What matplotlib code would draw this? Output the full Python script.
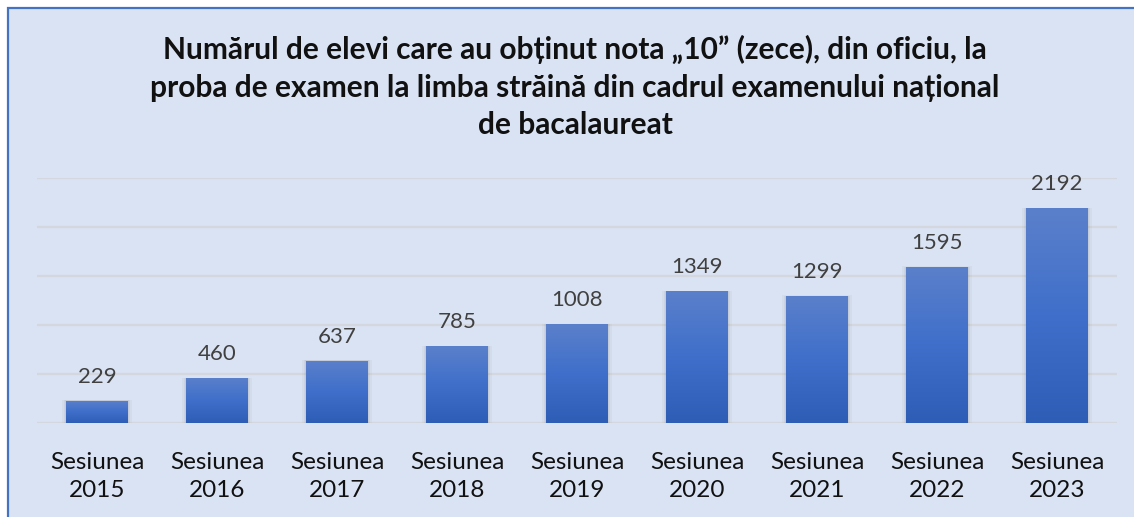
import matplotlib
matplotlib.use("Agg")
import matplotlib.pyplot as plt
import numpy as np
from matplotlib.patches import Rectangle
from matplotlib.colors import LinearSegmentedColormap

categories = ["Sesiunea\n2015", "Sesiunea\n2016", "Sesiunea\n2017", "Sesiunea\n2018",
              "Sesiunea\n2019", "Sesiunea\n2020", "Sesiunea\n2021", "Sesiunea\n2022",
              "Sesiunea\n2023"]
values = [229, 460, 637, 785, 1008, 1349, 1299, 1595, 2192]
title = ("Numărul de elevi care au obținut nota „10” (zece), din oficiu, la\n"
         "proba de examen la limba străină din cadrul examenului național\n"
         "de bacalaureat")

BG = "#dae3f3"
W, H = 1134, 517
fig = plt.figure(figsize=(W / 100, H / 100), dpi=100)
fig.patch.set_facecolor("white")
# panel with blue border
panel = Rectangle((7.5 / W, -0.05), 1.2, (H - 7.5) / H + 0.05, transform=fig.transFigure,
                  facecolor=BG, edgecolor="#4472c4", linewidth=1.6, zorder=-10)
fig.patches.append(panel)

ax = fig.add_axes([37 / W, (H - 423) / H, (1117 - 37) / W, (423 - 178) / H])
ax.set_zorder(1)
ax.patch.set_visible(False)
x = np.arange(len(values))
bars = ax.bar(x, values, width=0.51, color="#4472c4", zorder=3)
ax.set_xlim(-0.5, len(values) - 0.5)
ax.set_ylim(0, 2500)
ax.set_yticks(np.arange(0, 2501, 500))
ax.yaxis.grid(True, color="#d4d7dd", linewidth=1.6, zorder=0)
ax.set_axisbelow(True)
ax.tick_params(axis="y", left=False, labelleft=False)
ax.tick_params(axis="x", length=0, pad=21)
for s in ax.spines.values():
    s.set_visible(False)
ax.set_xticks(x)
ax.set_xticklabels(categories, fontsize=17.5, family="Lato", color="#111111", linespacing=1.42)

cmap = LinearSegmentedColormap.from_list("g", ["#2e5db6", "#3f6fca", "#5b80cb"])
grad = np.linspace(0, 1, 256).reshape(-1, 1)
for b in bars:
    bx, by, bw, bh = b.get_x(), b.get_y(), b.get_width(), b.get_height()
    # soft shadow
    for k, a in enumerate([0.05, 0.05, 0.04]):
        off = 0.012 * (k + 1)
        sh = Rectangle((bx - off, by - 8 * (k + 1) / 10), bw + 2 * off, bh + 8 * (k + 1) / 10 * 2,
                       facecolor="#404040", alpha=a, edgecolor="none", zorder=2)
        ax.add_patch(sh)
    im = ax.imshow(grad, extent=(bx, bx + bw, by, by + bh), origin="lower", cmap=cmap,
                   aspect="auto", zorder=4, interpolation="bilinear")
    im.set_clip_path(b)
    b.set_facecolor("none")

for xi, v in zip(x, values):
    ax.annotate(str(v), (xi, v), xytext=(0, 10), textcoords="offset points",
                ha="center", va="bottom", fontsize=16, family="Lato", color="#404040")

ax.set_xlim(-0.5, len(values) - 0.5)
ax.set_ylim(0, 2500)
fig.text(575 / W, 1 - 87 / H, title, ha="center", va="center", fontsize=21.5,
         fontweight="bold", family="Lato", color="#111111", linespacing=1.42)

fig.savefig("out.png", dpi=100, facecolor=fig.get_facecolor())
